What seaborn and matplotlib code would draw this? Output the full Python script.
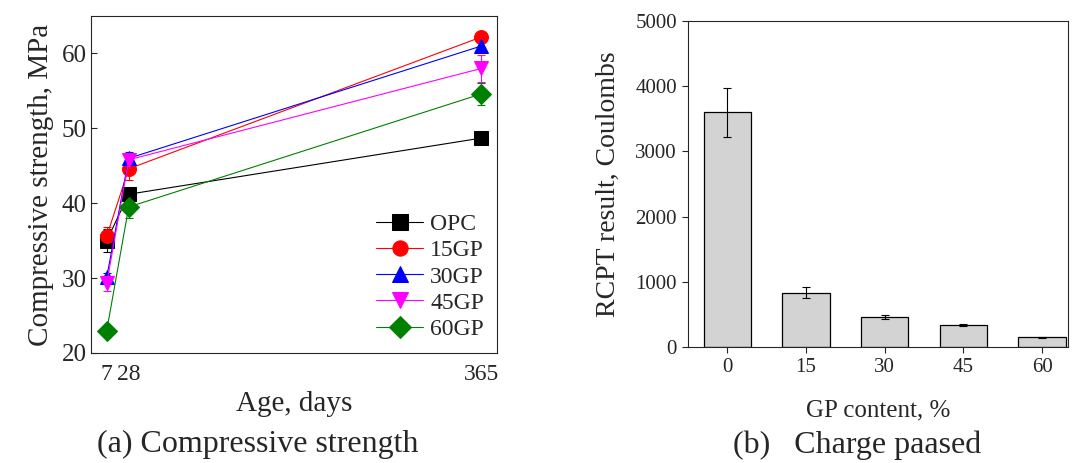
import numpy as np
import pandas as pd
import matplotlib
matplotlib.use("Agg")
import matplotlib.pyplot as plt
import seaborn as sns

sns.set_theme(style="ticks")
plt.rcParams['font.family'] = ['Liberation Serif', 'DejaVu Serif']

# ---------------- data: compressive strength ----------------
ages = [7, 28, 365]
mixes = ["OPC", "15GP", "30GP", "45GP", "60GP"]
strength_opc = [35.0, 41.2, 48.7]
strength_15gp = [35.6, 44.6, 62.2]
strength_30gp = [30.1, 46.0, 61.0]
strength_45gp = [29.3, 45.8, 58.0]
strength_60gp = [23.0, 39.5, 54.6]
err_opc = [1.5, 0.5, 0.4]
err_15gp = [1.2, 1.5, 0.4]
err_30gp = [0.6, 0.8, 0.5]
err_45gp = [1.0, 0.8, 1.8]
err_60gp = [0.5, 1.5, 1.5]

# ---------------- data: RCPT ----------------
gp_content = ["0", "15", "30", "45", "60"]
charge = [3600, 835, 465, 335, 150]
charge_err = [380, 80, 30, 12, 10]

colors = ['black', 'red', 'blue', 'magenta', 'green']
markers = ['s', 'o', '^', 'v', 'D']

fig = plt.figure(figsize=(10.75, 4.63), dpi=100)
ax1 = fig.add_axes([0.0847, 0.2376, 0.3777, 0.7278])
ax2 = fig.add_axes([0.640, 0.2505, 0.3535, 0.7041])

# ============================================================
#                  (a) COMPRESSIVE STRENGTH
# ============================================================
series = [strength_opc, strength_15gp, strength_30gp, strength_45gp, strength_60gp]
errors = [err_opc, err_15gp, err_30gp, err_45gp, err_60gp]
for i, name in enumerate(mixes):
    ax1.errorbar(ages, series[i], yerr=errors[i], fmt='none', ecolor=colors[i],
                 elinewidth=0.8, capsize=3, capthick=0.8, zorder=2)
    sns.lineplot(x=ages, y=series[i], ax=ax1, color=colors[i], marker=markers[i],
                 markersize=10, markeredgecolor=colors[i], linewidth=0.8,
                 label=name, zorder=3)

ax1.set_xlim(-8, 380)
ax1.set_ylim(20, 65)
ax1.set_xticks(ages)
ax1.set_yticks([20, 30, 40, 50, 60])
ax1.tick_params(axis='y', direction='in', labelsize=18, length=4, width=0.8, pad=3)
ax1.tick_params(axis='x', length=0, pad=8, labelsize=17)
ax1.set_xlabel("Age, days", fontsize=21, labelpad=4)
ax1.set_ylabel("Compressive strength, MPa", fontsize=21, labelpad=6)
for sp in ax1.spines.values():
    sp.set_linewidth(0.8)
ax1.legend(loc='lower right', frameon=False, fontsize=17, handlelength=2.0,
           handletextpad=0.3, labelspacing=0.2, borderaxespad=0.15, markerscale=1.1)

# ============================================================
#                  (b) CHARGE PASSED
# ============================================================
df_rcpt = pd.DataFrame({"gp": gp_content, "charge": charge})
sns.barplot(data=df_rcpt, x="gp", y="charge", ax=ax2, color='#d3d3d3',
            edgecolor='black', linewidth=0.9, width=0.6, errorbar=None, saturation=1)
ax2.errorbar(np.arange(len(gp_content)), charge, yerr=charge_err, fmt='none',
             ecolor='black', elinewidth=0.8, capsize=3, capthick=0.8)
ax2.set_xlim(-0.5, 4.33)
ax2.set_ylim(0, 5000)
ax2.set_yticks([0, 1000, 2000, 3000, 4000, 5000])
ax2.tick_params(axis='both', direction='out', labelsize=15, length=4, width=0.8, pad=4)
ax2.set_xlabel("GP content, %", fontsize=18, labelpad=16)
ax2.set_ylabel("RCPT result, Coulombs", fontsize=20, labelpad=10)
for sp in ax2.spines.values():
    sp.set_visible(True)
    sp.set_linewidth(0.8)

# ---------------- captions ----------------
fig.text(0.240, 0.039, "(a) Compressive strength", fontsize=23, ha='center', va='center')
fig.text(0.797, 0.039, "(b)   Charge paased", fontsize=23, ha='center', va='center')

fig.savefig("out.png", dpi=100)
